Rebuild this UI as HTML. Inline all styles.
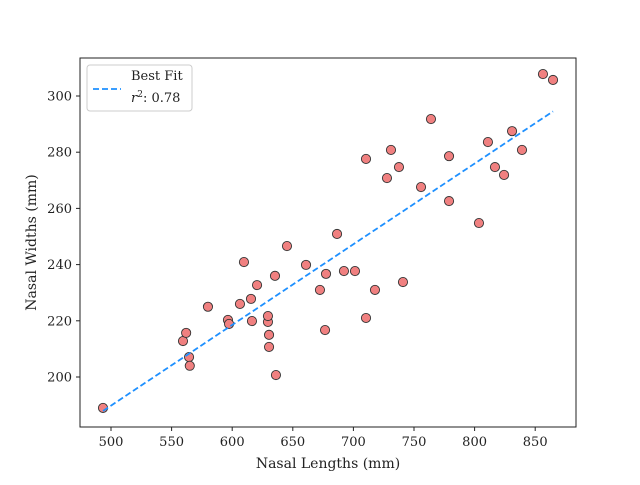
<!DOCTYPE html>
<html><head><meta charset="utf-8"><style>body{margin:0;background:#fff}svg{font-family:"DejaVu Serif","Liberation Serif",serif}</style></head>
<body>
<svg id="chart" width="640" height="480" xmlns="http://www.w3.org/2000/svg"></svg>
<script>
const lengths=[493.4,559.4,562,564.4,565,580,596.5,597.4,606.4,609.7,615.5,616.3,620.5,629.5,629.5,630.4,630.4,635.3,636.1,645.2,660.9,672.4,676.6,677.4,686.5,692.2,701.3,710.4,710.4,717.8,727.7,731,737.6,740.9,755.8,764,778.9,778.9,803.6,811,816.8,824.3,830.9,839.1,856.4,864.7];
const widths=[189,212.8,215.7,207.1,204,225,220.3,218.9,226,240.9,227.8,219.9,232.7,219.6,221.7,215,210.7,236,200.7,246.6,239.9,231,216.7,236.7,250.9,237.7,237.7,277.6,221,231,270.8,280.8,274.7,233.8,267.6,291.8,278.6,262.6,254.8,283.6,274.7,271.9,287.5,280.8,307.8,305.7];
const xTicks=[500,550,600,650,700,750,800,850];
const yTicks=[200,220,240,260,280,300];
const r2Label="0.78";
const svg=document.getElementById('chart');const NS="http://www.w3.org/2000/svg";
const L=80,R=576,T=58,B=427;
const sx=v=>111+(v-500)*(60.6/50);
const sy=v=>377-(v-200)*(281/100);
function mk(t,a,p){const e=document.createElementNS(NS,t);for(const k in a)e.setAttribute(k,a[k]);(p||svg).appendChild(e);return e;}
const frame=mk('rect',{x:L,y:T,width:R-L,height:B-T,fill:'#fff',stroke:'#222','stroke-width':1});


xTicks.forEach(v=>{const x=sx(v);mk('line',{x1:x,x2:x,y1:B,y2:B+4,stroke:'#222'});const t=mk('text',{x:x,y:B+19,'text-anchor':'middle','font-size':13,fill:'#222'});t.textContent=v;

});
yTicks.forEach(v=>{const y=sy(v);mk('line',{x1:L-4,x2:L,y1:y,y2:y,stroke:'#222'});const t=mk('text',{x:L-8,y:y+4.5,'text-anchor':'end','font-size':13,fill:'#222'});t.textContent=v;

});
const xt=mk('text',{x:(L+R)/2,y:468,'text-anchor':'middle','font-size':14,fill:'#222'});xt.textContent='Nasal Lengths (mm)';


const yt=mk('text',{x:0,y:0,'text-anchor':'middle','font-size':14,fill:'#222',transform:`translate(36,${(T+B)/2}) rotate(-90)`});yt.textContent='Nasal Widths (mm)';


// fit
const n=lengths.length;let mx=0,my=0;for(let i=0;i<n;i++){mx+=lengths[i];my+=widths[i];}mx/=n;my/=n;
let sxy=0,sxx=0;for(let i=0;i<n;i++){sxy+=(lengths[i]-mx)*(widths[i]-my);sxx+=(lengths[i]-mx)**2;}
const m=sxy/sxx,b=my-m*mx;const x0=Math.min(...lengths),x1=Math.max(...lengths);
for(let i=0;i<n;i++){const c=mk('circle',{cx:sx(lengths[i]),cy:sy(widths[i]),r:4.6,fill:'#f08080',stroke:'#333','stroke-width':0.9});

}
const fl=mk('line',{x1:sx(x0),y1:sy(m*x0+b),x2:sx(x1),y2:sy(m*x1+b),stroke:'#1e90ff','stroke-width':1.8,'stroke-dasharray':'6,3'});


const lg=mk('g',{});


mk('rect',{x:87,y:65,width:105,height:46,rx:3,fill:'#fff',stroke:'#ccc'},lg);
mk('line',{x1:93,x2:121,y1:89,y2:89,stroke:'#1e90ff','stroke-width':1.8,'stroke-dasharray':'6,3'},lg);
const l1=mk('text',{x:131,y:80,'font-size':13,fill:'#222'},lg);l1.textContent='Best Fit';
const l2=mk('text',{x:131,y:102,'font-size':13,fill:'#222'},lg);l2.innerHTML='<tspan font-style="italic">r</tspan><tspan font-size="9" dy="-5">2</tspan><tspan dy="5">: '+r2Label+'</tspan>';
</script>
</body></html>
